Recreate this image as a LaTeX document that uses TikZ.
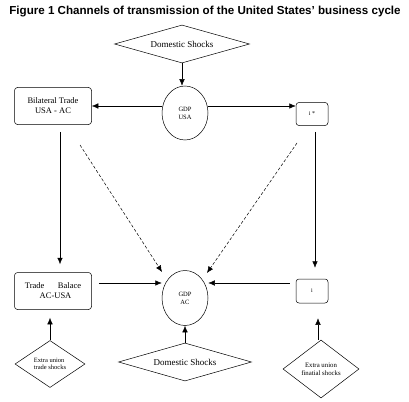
\documentclass[tikz,border=0pt]{standalone}
\usepackage{fontspec}
\setmainfont{Liberation Serif}
\setsansfont{Liberation Sans}
\usetikzlibrary{shapes.geometric,arrows.meta}

\tikzset{
    shock/.style={draw,diamond,inner sep=0pt},
    gdp/.style={draw,ellipse,minimum width=46pt,minimum height=54pt,inner sep=0pt,
        font=\fontsize{6.5}{8}\selectfont,align=center},
    chan/.style={draw,rounded corners=3pt,inner sep=0pt,align=center},
    arr/.style={-{Latex[length=6.5pt,width=5.5pt]}},
}

\begin{document}
\begin{tikzpicture}[x=1pt,y=-1pt,line width=0.5pt]
    \useasboundingbox (0,0) rectangle (409,401);
        \node (title) at (205,12) {\sffamily\bfseries\fontsize{11.6}{13}\selectfont Figure 1 Channels of transmission of the United States' business cycle};
        % shocks
        \node[shock,aspect=3.55,minimum width=135pt,minimum height=38pt,font=\fontsize{9}{10}\selectfont] (dtop) at (182,44) {Domestic Shocks};
        \node[shock,aspect=3.5,minimum width=133pt,minimum height=38pt,font=\fontsize{9}{10}\selectfont] (dbot) at (185,362) {Domestic Shocks};
        \node[shock,aspect=1.5,minimum width=70pt,minimum height=47pt,align=left,font=\fontsize{6.5}{7.5}\selectfont] (xtrade) at (50,364) {Extra union\\trade shocks};
        \node[shock,aspect=1.3,minimum width=76pt,minimum height=58pt,align=center,font=\fontsize{6.8}{8}\selectfont] (xfin) at (321,369) {Extra union\\finatial shocks};
        % gdp
        \node[gdp] (gdpusa) at (185,113) {GDP\\USA};
        \node[gdp,minimum height=55pt] (gdpac) at (185,298) {GDP\\AC};
        % channels
        \node[chan,minimum width=77pt,minimum height=37pt,font=\fontsize{8.5}{10}\selectfont] (bilat) at (53,106) {Bilateral Trade\\USA - AC};
        \node[chan,minimum width=77pt,minimum height=37pt,font=\fontsize{8.5}{10}\selectfont] (trade) at (53,291) {Trade\hspace{1.6em}Balace\\\hspace{0.6em}AC-USA};
        \node[chan,minimum width=32pt,minimum height=23pt,font=\fontsize{6}{7}\selectfont] (istar) at (312,114) {i *};
        \node[chan,minimum width=32pt,minimum height=24pt,font=\fontsize{6}{7}\selectfont] (iac) at (312,291) {i};
        % arrows
        \coordinate (tradeout) at ([yshift=8pt]trade.east);
        \coordinate (iout) at ([yshift=8pt]iac.west);
        \draw[arr] (dtop.south) -- (dtop.south |- gdpusa.north);
        \draw[arr] (gdpusa.west |- bilat.east) -- (bilat.east);
        \draw[arr] (gdpusa.east |- bilat.east) -- (istar.west |- bilat.east);
        \draw[arr,shorten <=7pt,shorten >=8pt] ([xshift=7pt]bilat.south) -- ([xshift=7pt]trade.north);
        \draw[arr,shorten <=6pt,shorten >=11pt] ([xshift=3pt]istar.south) -- ([xshift=3pt]iac.north);
        \draw[arr,shorten <=7pt] (tradeout) -- (gdpac.west |- tradeout);
        \draw[arr,shorten <=6pt] (iout) -- (gdpac.east |- iout);
        \draw[arr] (dbot.north) -- (gdpac.south);
        \draw[arr,shorten >=8pt] (xtrade.north) -- (xtrade.north |- trade.south);
        \draw[arr,shorten >=15pt] ([xshift=-3pt]xfin.north) -- ([xshift=-3pt]xfin.north |- iac.south);
        % dashed channels
        \coordinate (dashl) at (80,145);
        \coordinate (dashr) at (297,143);
        \coordinate (tipl) at (162,272);
        \coordinate (tipr) at (207,273);
        \draw[arr,densely dashed] (dashl) -- (tipl);
        \draw[arr,densely dashed] (dashr) -- (tipr);
    \end{tikzpicture}
\end{document}
